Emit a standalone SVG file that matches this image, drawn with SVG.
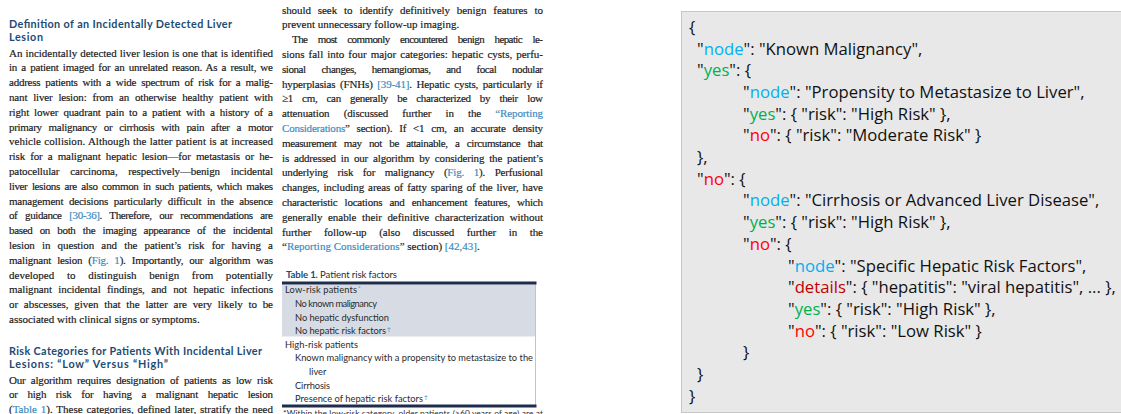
<svg xmlns="http://www.w3.org/2000/svg" width="1121" height="414" viewBox="0 0 1121 414">
<style>
.b{font-family:"Liberation Serif","Times New Roman",serif;font-size:11px;fill:#1c1a1b;stroke:#1c1a1b;stroke-width:0.18px}
.lk{fill:#3a8bc2;stroke:#3a8bc2}
.h{font-family:Lato,"Liberation Sans",sans-serif;font-weight:700;font-size:10.8px;fill:#1d4b74}
.t{font-family:Lato,"Liberation Sans",sans-serif;font-size:9.3px;fill:#2b2b2b}
.tt{font-family:Lato,"Liberation Sans",sans-serif;font-size:9.6px;fill:#2b2b2b}
.tb{font-weight:700;fill:#1d4b74}
.sup{font-family:Lato,"Liberation Sans",sans-serif;font-size:6.5px;fill:#3a8bc2}
.fn{font-family:Lato,"Liberation Sans",sans-serif;font-size:8.4px;fill:#2b2b2b}
.c{font-family:"Open Sans","Liberation Sans",sans-serif;font-size:16.7px;fill:#111111}
.kn{fill:#00b0f0}
.ky{fill:#00b050}
.kr{fill:#ff0000}
.kd{fill:#c00000}
</style>
<rect x="0" y="0" width="1121" height="414" fill="#ffffff"/>

<g id="column-1">
<text class="h" x="9" y="28" textLength="223">Definition of an Incidentally Detected Liver</text>
<text class="h" x="9" y="40.5" textLength="34">Lesion</text>
<text class="b" x="9" y="56.5" textLength="264" style="word-spacing:0.3px">An incidentally detected liver lesion is one that is identified</text>
<text class="b" x="9" y="71.3" textLength="264" style="word-spacing:1.6px">in a patient imaged for an unrelated reason. As a result, we</text>
<text class="b" x="9" y="86.1" textLength="264" style="word-spacing:2.5px">address patients with a wide spectrum of risk for a malig-</text>
<text class="b" x="9" y="100.9" textLength="264" style="word-spacing:3.3px">nant liver lesion: from an otherwise healthy patient with</text>
<text class="b" x="9" y="115.7" textLength="264" style="word-spacing:2.4px">right lower quadrant pain to a patient with a history of a</text>
<text class="b" x="9" y="130.5" textLength="264" style="word-spacing:4.4px">primary malignancy or cirrhosis with pain after a motor</text>
<text class="b" x="9" y="145.3" textLength="264" style="word-spacing:0.5px">vehicle collision. Although the latter patient is at increased</text>
<text class="b" x="9" y="160.1" textLength="264" style="word-spacing:2.5px">risk for a malignant hepatic lesion—for metastasis or he-</text>
<text class="b" x="9" y="174.9" textLength="264" style="word-spacing:8.2px">patocellular carcinoma, respectively—benign incidental</text>
<text class="b" x="9" y="189.7" textLength="264" style="word-spacing:2.1px">liver lesions are also common in such patients, which makes</text>
<text class="b" x="9" y="204.5" textLength="264" style="word-spacing:3.1px">management decisions particularly difficult in the absence</text>
<text class="b" x="9" y="219.3" textLength="264" style="word-spacing:5.3px">of guidance <tspan class="lk">[30-36]</tspan>. Therefore, our recommendations are</text>
<text class="b" x="9" y="234.1" textLength="264" style="word-spacing:4.9px">based on both the imaging appearance of the incidental</text>
<text class="b" x="9" y="248.9" textLength="264" style="word-spacing:4.6px">lesion in question and the patient’s risk for having a</text>
<text class="b" x="9" y="263.7" textLength="264" style="word-spacing:3.5px">malignant lesion (<tspan class="lk">Fig. 1</tspan>). Importantly, our algorithm was</text>
<text class="b" x="9" y="278.5" textLength="264" style="word-spacing:9.9px">developed to distinguish benign from potentially</text>
<text class="b" x="9" y="293.3" textLength="264" style="word-spacing:3.8px">malignant incidental findings, and not hepatic infections</text>
<text class="b" x="9" y="308.1" textLength="264" style="word-spacing:3px">or abscesses, given that the latter are very likely to be</text>
<text class="b" x="9" y="322.9">associated with clinical signs or symptoms.</text>
<text class="h" x="9" y="355" textLength="253">Risk Categories for Patients With Incidental Liver</text>
<text class="h" x="9" y="367.5" textLength="159">Lesions: “Low” Versus “High”</text>
<text class="b" x="9" y="383.5" textLength="264" style="word-spacing:2.7px">Our algorithm requires designation of patients as low risk</text>
<text class="b" x="9" y="398.3" textLength="264" style="word-spacing:7.1px">or high risk for having a malignant hepatic lesion</text>
<text class="b" x="9" y="412.6" textLength="264" style="word-spacing:1.1px">(<tspan class="lk">Table 1</tspan>). These categories, defined later, stratify the need</text>
</g>

<g id="column-2">
<text class="b" x="282" y="13.5" textLength="261" style="word-spacing:4.3px">should seek to identify definitively benign features to</text>
<text class="b" x="282" y="28.3">prevent unnecessary follow-up imaging.</text>
<text class="b" x="292" y="43.1" textLength="251" style="word-spacing:8.3px">The most commonly encountered benign hepatic le-</text>
<text class="b" x="282" y="57.9" textLength="261" style="word-spacing:1.3px">sions fall into four major categories: hepatic cysts, perfu-</text>
<text class="b" x="282" y="72.7" textLength="261" style="word-spacing:13.4px">sional changes, hemangiomas, and focal nodular</text>
<text class="b" x="282" y="87.5" textLength="261" style="word-spacing:1.9px">hyperplasias (FNHs) <tspan class="lk">[39-41]</tspan>. Hepatic cysts, particularly if</text>
<text class="b" x="282" y="102.3" textLength="261" style="word-spacing:6.8px">≥1 cm, can generally be characterized by their low</text>
<text class="b" x="282" y="117.1" textLength="261" style="word-spacing:11.6px">attenuation (discussed further in the <tspan class="lk">“Reporting</tspan></text>
<text class="b" x="282" y="131.9" textLength="261" style="word-spacing:4.4px"><tspan class="lk">Considerations</tspan>” section). If &lt;1 cm, an accurate density</text>
<text class="b" x="282" y="146.7" textLength="261" style="word-spacing:5px">measurement may not be attainable, a circumstance that</text>
<text class="b" x="282" y="161.5" textLength="261" style="word-spacing:2.4px">is addressed in our algorithm by considering the patient’s</text>
<text class="b" x="282" y="176.3" textLength="261" style="word-spacing:7px">underlying risk for malignancy (<tspan class="lk">Fig. 1</tspan>). Perfusional</text>
<text class="b" x="282" y="191.1" textLength="261" style="word-spacing:1.3px">changes, including areas of fatty sparing of the liver, have</text>
<text class="b" x="282" y="205.9" textLength="261" style="word-spacing:4.6px">characteristic locations and enhancement features, which</text>
<text class="b" x="282" y="220.7" textLength="261" style="word-spacing:2.8px">generally enable their definitive characterization without</text>
<text class="b" x="282" y="235.5" textLength="261" style="word-spacing:10px">further follow-up (also discussed further in the</text>
<text class="b" x="282" y="250.3">“<tspan class="lk">Reporting Considerations</tspan>” section) <tspan class="lk">[42,43]</tspan>.</text>
</g>

<g id="table-1">
<text class="tt" x="286" y="277.5" textLength="111"><tspan class="tb">Table 1.</tspan> Patient risk factors</text>
<rect x="282" y="284.5" width="253.5" height="52" fill="#d7dce4"/>
<line x1="535.5" y1="284" x2="535.5" y2="405" stroke="#c4c4c4" stroke-width="1"/>
<line x1="282" y1="283" x2="536.5" y2="283" stroke="#1f2d4d" stroke-width="3"/>
<line x1="282" y1="406" x2="536.5" y2="406" stroke="#1f2d4d" stroke-width="3"/>
<text class="t" x="285" y="293.3" textLength="72">Low-risk patients</text>
<text class="sup" x="358" y="290">*</text>
<text class="t" x="295" y="306.9" textLength="82">No known malignancy</text>
<text class="t" x="295" y="320.5" textLength="94">No hepatic dysfunction</text>
<text class="t" x="295" y="334.1" textLength="91">No hepatic risk factors</text>
<text class="sup" x="387" y="330.5">†</text>
<text class="t" x="285" y="347.7" textLength="73">High-risk patients</text>
<text class="t" x="295" y="361.3" textLength="238">Known malignancy with a propensity to metastasize to the</text>
<text class="t" x="309" y="374.9">liver</text>
<text class="t" x="295" y="388.5" textLength="35">Cirrhosis</text>
<text class="t" x="295" y="402.1" textLength="128">Presence of hepatic risk factors</text>
<text class="sup" x="424" y="398.5">†</text>
<text class="fn" x="283" y="415.5" textLength="260">*Within the low-risk category, older patients (≥60 years of age) are at</text>
</g>

<g id="code-panel">
<rect x="681.5" y="11.5" width="450" height="401" fill="#e8e8e8" stroke="#c6c6c6" stroke-width="1"/>
<text class="c" x="689" y="33">{</text>
<text class="c" x="697" y="54.7">"<tspan class="kn">node</tspan>": "Known Malignancy",</text>
<text class="c" x="697" y="76.4">"<tspan class="ky">yes</tspan>": {</text>
<text class="c" x="743" y="98">"<tspan class="kn">node</tspan>": "Propensity to Metastasize to Liver",</text>
<text class="c" x="743" y="119.7">"<tspan class="ky">yes</tspan>": { "risk": "High Risk" },</text>
<text class="c" x="743" y="141.4">"<tspan class="kr">no</tspan>": { "risk": "Moderate Risk" }</text>
<text class="c" x="697" y="163.1">},</text>
<text class="c" x="697" y="184.8">"<tspan class="kr">no</tspan>": {</text>
<text class="c" x="743" y="206.4">"<tspan class="kn">node</tspan>": "Cirrhosis or Advanced Liver Disease",</text>
<text class="c" x="743" y="228.1">"<tspan class="ky">yes</tspan>": { "risk": "High Risk" },</text>
<text class="c" x="743" y="249.8">"<tspan class="kr">no</tspan>": {</text>
<text class="c" x="788" y="271.5">"<tspan class="kn">node</tspan>": "Specific Hepatic Risk Factors",</text>
<text class="c" x="788" y="293.2">"<tspan class="kd">details</tspan>": { "hepatitis": "viral hepatitis", ... },</text>
<text class="c" x="788" y="314.8">"<tspan class="ky">yes</tspan>": { "risk": "High Risk" },</text>
<text class="c" x="788" y="336.5">"<tspan class="kr">no</tspan>": { "risk": "Low Risk" }</text>
<text class="c" x="743" y="358.2">}</text>
<text class="c" x="697" y="379.9">}</text>
<text class="c" x="689" y="401.6">}</text>
</g>
</svg>
